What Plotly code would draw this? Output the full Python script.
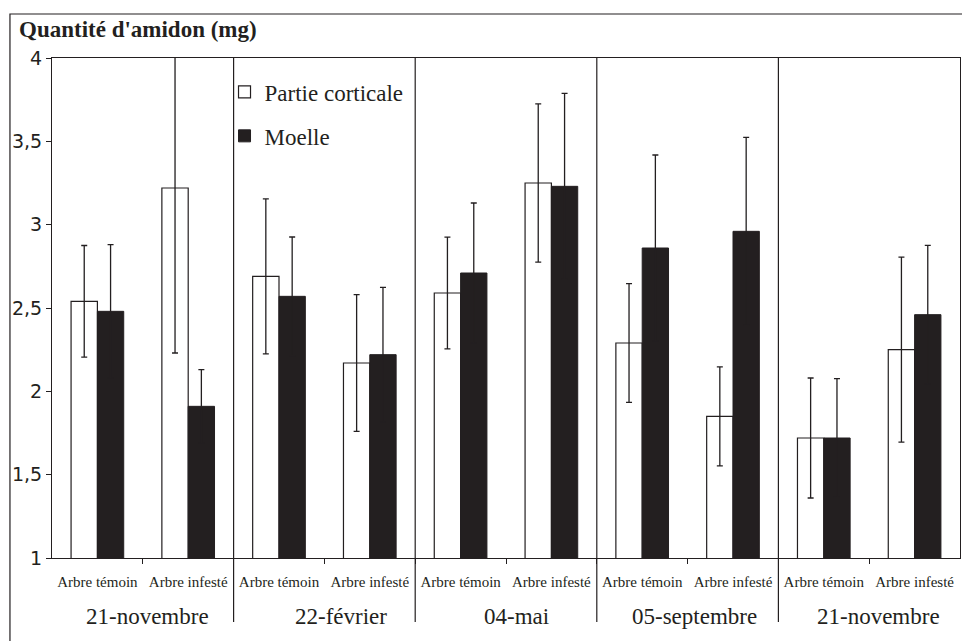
import plotly.graph_objects as go

# ---- data ----
months = ["21-novembre", "22-février", "04-mai", "05-septembre", "21-novembre"]
subcats = ["Arbre témoin", "Arbre infesté"]
series_names = ["Partie corticale", "Moelle"]

cortical = [2.54, 3.22, 2.69, 2.17, 2.59, 3.25, 2.29, 1.85, 1.72, 2.25]
cortical_err = [0.335, 0.99, 0.465, 0.41, 0.335, 0.475, 0.356, 0.297, 0.36, 0.555]
moelle = [2.48, 1.91, 2.57, 2.22, 2.71, 3.23, 2.86, 2.96, 1.72, 2.46]
moelle_err = [0.40, 0.22, 0.356, 0.404, 0.42, 0.558, 0.558, 0.564, 0.356, 0.416]

y_title = "Quantité d'amidon (mg)"

# ---- style (label nudges as in the original figure) ----
month_xshift = [5, 17, 10, 7, 9]

# ---- derived ----
n = len(months) * len(subcats)
xpos = list(range(n))
xlabels = [subcats[i % len(subcats)] for i in xpos]

serif = "Liberation Serif"
ink = "#231f20"
fig = go.Figure()

fig.add_trace(go.Bar(
    x=xpos, y=cortical, name=series_names[0], legendgroup="a",
    marker=dict(color="white", line=dict(color=ink, width=1.2)),
    error_y=dict(type="data", array=cortical_err, visible=True,
                 color=ink, thickness=1.3, width=3),
))
fig.add_trace(go.Bar(
    x=xpos, y=moelle, name=series_names[1], legendgroup="b",
    marker=dict(color=ink, line=dict(color=ink, width=1)),
    error_y=dict(type="data", array=moelle_err, visible=True,
                 color=ink, thickness=1.3, width=3),
))

# group separators (extend below axis through labels)
nsub = len(subcats)
for g in range(1, len(months)):
    xb = g * nsub - 0.5
    fig.add_shape(type="line", xref="x", yref="paper", x0=xb, x1=xb,
                  y0=-0.128, y1=1, line=dict(color=ink, width=1.2))

# month labels
for g, m in enumerate(months):
    fig.add_annotation(x=g * nsub + (nsub - 1) / 2, y=-0.116, xref="x", yref="paper",
                       text=m, showarrow=False, yanchor="middle", xshift=month_xshift[g],
                       font=dict(family=serif, size=23, color=ink))

# y title
fig.add_annotation(x=-0.038, y=1.056, xref="paper", yref="paper", xanchor="left",
                   yanchor="middle", text=y_title, showarrow=False,
                   font=dict(family=serif, size=23, color=ink, weight="bold"))

# outer border
fig.add_shape(type="rect", xref="paper", yref="paper",
              x0=-0.0463, x1=1.5, y0=-0.5, y1=1.088,
              line=dict(color=ink, width=1.2))

fig.update_layout(
    width=962, height=641,
    margin=dict(l=52, r=2, t=58, b=83),
    paper_bgcolor="white", plot_bgcolor="white",
    barmode="group", bargap=0.42, bargroupgap=0,
    separators=", ",
    showlegend=True,
    font=dict(family=serif, color=ink),
    legend=dict(x=0.19, y=0.975, xanchor="left", yanchor="top",
                bgcolor="rgba(0,0,0,0)", traceorder="grouped", tracegroupgap=11,
                font=dict(family=serif, size=23, color=ink)),
    xaxis=dict(range=[-0.5, n - 0.5], tickmode="array", tickvals=xpos, ticktext=xlabels,
               ticks="", showgrid=False, zeroline=False,
               showline=True, linecolor=ink, linewidth=1.2, mirror=True,
               tickfont=dict(family=serif, size=15, color=ink),
               ticklabelstandoff=10,
               minor=dict(tickmode="array", tickvals=[i + 0.5 for i in xpos[:-1]],
                          ticks="outside", ticklen=5, tickcolor=ink, tickwidth=1.2,
                          showgrid=False)),
    yaxis=dict(range=[1, 4], dtick=0.5, tick0=1, ticks="outside", ticklen=5,
               tickcolor=ink, tickwidth=1.2,
               showgrid=False, zeroline=False,
               showline=True, linecolor=ink, linewidth=1.2, mirror=True,
               tickfont=dict(family="DejaVu Sans", size=19, color=ink)),
)

fig.write_html("out.html")
